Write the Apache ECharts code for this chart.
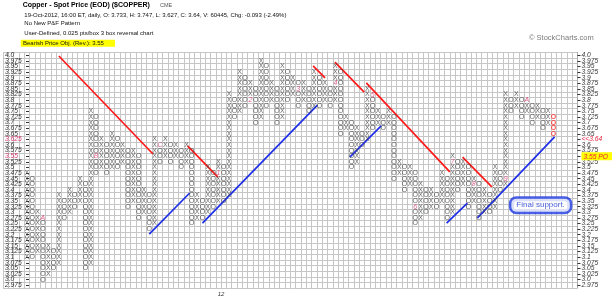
<!DOCTYPE html>
<html><head><meta charset="utf-8">
<script src="https://cdn.jsdelivr.net/npm/echarts@6/dist/echarts.min.js"></script>
<style>html,body{margin:0;padding:0;background:#fff}#c{width:615px;height:298px}</style>
</head><body><div id="c"></div>
<script>
// ---- tick labels (bottom -> top), 0.025 per box ----
const priceLabels = ['2.975','3.0','3.025','3.05','3.075','3.1','3.125','3.15','3.175','3.2','3.225','3.25','3.275','3.3','3.325','3.35','3.375','3.4','3.425','3.45','3.475','3.5','3.525','3.55','3.575','3.6','3.625','3.65','3.675','3.7','3.725','3.75','3.775','3.8','3.825','3.85','3.875','3.9','3.925','3.95','3.975','4.0'];
const boxSize = 0.025;
const basePrice = 2.975;
const totalColumns = 108;
const firstColumn = 4;
// ---- P&F columns ----
const colType = ['X','O','X','O','X','O','X','O','X','O','X','O','X','O','X','O','X','O','X','O',
                 'X','O','X','O','X','O','X','O','X','O','X','O','X','O','X','O','X','O','X','O',
                 'X','O','X','O','X','O','X','O','X','O','X','O','X','O','X','O','X','O','X','O',
                 'X','O','X','O','X','O','X','O','X','O','X','O','X','O','X','O','X','O','X','O',
                 'X','O','X','O','X','O','X','O','X','O','X','O','X','O','X','O','X','O','X','O'];
const colLow = [3.100,3.100,3.125,3.000,3.025,3.050,3.075,3.275,3.300,3.325,
                3.350,3.050,3.075,3.475,3.500,3.475,3.500,3.500,3.525,3.325,
                3.350,3.275,3.300,3.225,3.250,3.525,3.550,3.525,3.550,3.500,
                3.525,3.250,3.275,3.275,3.300,3.325,3.350,3.350,3.375,3.725,
                3.750,3.775,3.800,3.700,3.725,3.775,3.800,3.700,3.725,3.800,
                3.825,3.775,3.800,3.750,3.775,3.775,3.800,3.775,3.800,3.650,
                3.675,3.500,3.525,3.600,3.625,3.675,3.700,3.675,3.700,3.450,
                3.475,3.400,3.425,3.250,3.275,3.300,3.325,3.325,3.350,3.275,
                3.300,3.400,3.425,3.325,3.350,3.275,3.300,3.300,3.325,3.400,
                3.425,3.750,3.775,3.725,3.750,3.700,3.725,3.675,3.700,3.650];
const colHigh = [3.475,3.450,3.300,3.275,3.150,3.125,3.375,3.350,3.400,3.375,
                 3.450,3.425,3.750,3.725,3.625,3.600,3.650,3.625,3.600,3.575,
                 3.575,3.550,3.400,3.375,3.625,3.600,3.625,3.600,3.600,3.575,
                 3.600,3.575,3.375,3.350,3.500,3.475,3.525,3.500,3.825,3.800,
                 3.925,3.900,3.875,3.850,3.975,3.950,3.875,3.850,3.950,3.925,
                 3.900,3.875,3.875,3.850,3.925,3.900,3.875,3.850,3.950,3.925,
                 3.725,3.700,3.675,3.650,3.850,3.825,3.750,3.725,3.750,3.725,
                 3.525,3.500,3.500,3.475,3.425,3.400,3.400,3.375,3.475,3.450,
                 3.550,3.525,3.525,3.500,3.450,3.425,3.400,3.375,3.500,3.475,
                 3.825,3.800,3.825,3.800,3.800,3.775,3.775,3.750,3.750,3.725];
// month markers: [symbol, column, price]
const monthMarks = [['A',7,3.275],['B',17,3.55],['C',29,3.6],['1',40,3.475],['2',46,3.8],['3',55,3.85],
                    ['4',62,3.875],['5',69,3.825],['6',77,3.325],['7',84,3.525],['8',88,3.425],['9',94,3.45],['A',98,3.8]];
// trend lines: [[column, price], [column, price]]
const redTrendLines = [[[10,3.997],[27.7,3.56]],[[34.2,3.596],[39.9,3.457]],[[57.8,3.953],[60.05,3.899]],
                       [[61.9,3.97],[67.4,3.836]],[[67.8,3.877],[83.5,3.48]],[[85.9,3.546],[91.4,3.413]]];
const blueTrendLines = [[[27.0,3.203],[34.6,3.386]],[[37.0,3.252],[58.6,3.778]],[[64.7,3.546],[70.6,3.685]],
                        [[82.9,3.252],[86.8,3.341]],[[88.7,3.275],[103.2,3.636]]];
const yearLabels = {82:'12'};
const callout = {text:'Final support.', col:100.57, price:3.332};

// ---- helpers ----
const rowOf = p => Math.round((p - basePrice) / boxSize);
const xOf = c => 2 * c + 1;
const yOf = p => 2 * (p - basePrice) / boxSize + 1;
const markKey = {};
monthMarks.forEach(m => { markKey[m[1] + '_' + rowOf(m[2])] = true; });

const xPts = [], oPts = [], lastPts = [];
const lastIdx = colType.length - 1;
colType.forEach((t, i) => {
  const c = firstColumn + i;
  for (let r = rowOf(colLow[i]); r <= rowOf(colHigh[i]); r++) {
    if (markKey[c + '_' + r]) continue;
    const pt = [xOf(c), 2 * r + 1];
    if (i === lastIdx) lastPts.push(pt);
    else if (t === 'X') xPts.push(pt); else oPts.push(pt);
  }
});
const markPts = monthMarks.map(m => [xOf(m[1]), 2 * rowOf(m[2]) + 1, m[0]]);

const FONT = 'Liberation Sans';
const glyph = (ch, color, weight) => ({
  type: 'scatter', data: null, symbolSize: 1, itemStyle: {color: 'rgba(0,0,0,0)'}, silent: true, z: 4,
  label: {show: true, position: 'inside', formatter: ch, fontSize: 7, fontFamily: FONT, color: color, fontWeight: weight || 'normal'}
});
const sX = glyph('X', '#3d3d3d'); sX.data = xPts;
const sO = glyph('O', '#3d3d3d'); sO.data = oPts;
const sLast = glyph('O', '#ff2a2a', 'bold'); sLast.data = lastPts;
const sMarks = glyph('', '#d5336c'); sMarks.data = markPts;
sMarks.label.formatter = p => p.data[2]; sMarks.label.fontStyle = 'italic';

const lineSeries = [];
redTrendLines.forEach(l => lineSeries.push({type: 'line', data: l.map(q => [xOf(q[0]), yOf(q[1])]), symbol: 'none', silent: true, z: 3,
  lineStyle: {color: '#ff1a1a', width: 1.7}}));
blueTrendLines.forEach(l => lineSeries.push({type: 'line', data: l.map(q => [xOf(q[0]), yOf(q[1])]), symbol: 'none', silent: true, z: 3,
  lineStyle: {color: '#1f2fe8', width: 1.7}}));

const calloutSeries = {type: 'scatter', symbolSize: 1, itemStyle: {color: 'rgba(0,0,0,0)'}, silent: true, z: 6,
  data: [[xOf(callout.col), yOf(callout.price)]],
  label: {show: true, position: 'inside', formatter: callout.text, fontSize: 8, fontFamily: FONT, color: '#1d38d8',
    backgroundColor: '#ffffff', borderColor: '#1d38e0', borderWidth: 2.5, borderRadius: 5, padding: [3, 5, 2, 5]}};

const labelBase = {interval: 0, fontSize: 6.7, fontStyle: 'italic', fontFamily: FONT, color: '#333'};
const chart = echarts.init(document.getElementById('c'), null, {renderer: 'canvas'});
chart.setOption({
  animation: false,
  textStyle: {fontFamily: FONT},
  grid: {left: 0, right: 30, top: 52.5, bottom: 10, containLabel: false},
  xAxis: {type: 'value', min: 0, max: 2 * totalColumns, interval: 2,
    axisLine: {show: false}, axisTick: {show: false},
    splitLine: {show: true, lineStyle: {color: '#c6c6c6', width: 1}},
    axisLabel: {show: true, formatter: v => yearLabels[v] || '', fontSize: 6, fontStyle: 'italic', color: '#333', margin: 3, showMinLabel: true, showMaxLabel: true, hideOverlap: false}},
  yAxis: [
    {type: 'value', min: 0, max: 2 * priceLabels.length, interval: 2,
      axisLine: {show: false}, axisTick: {show: false}, axisLabel: {show: false},
      splitLine: {show: true, lineStyle: {color: '#c6c6c6', width: 1}}},
    {type: 'category', data: priceLabels, position: 'left', offset: -26,
      axisLine: {show: false}, axisTick: {show: true, alignWithLabel: true, length: 3, lineStyle: {color: '#333'}},
      splitLine: {show: false},
      axisLabel: Object.assign({}, labelBase, {margin: 24, align: 'left',
        formatter: v => (v === '3.625' || v === '3.55') ? '{r|' + v + '}' : v,
        rich: {r: {color: '#d5336c', fontSize: 6.7, fontStyle: 'italic', fontFamily: FONT}}})},
    {type: 'category', data: priceLabels, position: 'right',
      axisLine: {show: true, lineStyle: {color: '#aaa'}}, axisTick: {show: true, alignWithLabel: true, length: 3, lineStyle: {color: '#333'}},
      splitLine: {show: false},
      axisLabel: Object.assign({}, labelBase, {margin: 4,
        formatter: v => v === '3.625' ? '{r|<<3.64}' : (v === '3.55' ? '{po|3.55 PO}' : v),
        rich: {r: {color: '#e8203a', fontSize: 6.7, fontStyle: 'italic', fontFamily: FONT},
               po: {color: '#e8203a', fontSize: 6.7, fontStyle: 'italic', fontFamily: FONT, backgroundColor: '#ffff00', padding: [1, 4, 0, 2]}}})}
  ],
  graphic: [
    {type: 'text', x: 22.7, y: 5, style: {text: 'Copper - Spot Price (EOD) ($COPPER)', fontSize: 7, fontWeight: 'bold', fontFamily: FONT, fill: '#000', verticalAlign: 'middle'}},
    {type: 'text', x: 160, y: 5.5, style: {text: 'CME', fontSize: 5.5, fontFamily: FONT, fill: '#555', verticalAlign: 'middle'}},
    {type: 'text', x: 24.3, y: 15, style: {text: '19-Oct-2012, 16:00 ET, daily, O: 3.733, H: 3.747, L: 3.627, C: 3.64, V: 60445, Chg: -0.093 (-2.49%)', fontSize: 6, fontFamily: FONT, fill: '#111', verticalAlign: 'middle'}},
    {type: 'text', x: 24.3, y: 23.5, style: {text: 'No New P&F Pattern', fontSize: 6, fontFamily: FONT, fill: '#111', verticalAlign: 'middle'}},
    {type: 'text', x: 24.3, y: 33.2, style: {text: 'User-Defined, 0.025 pts/box 3 box reversal chart', fontSize: 6, fontFamily: FONT, fill: '#111', verticalAlign: 'middle'}},
    {type: 'rect', shape: {x: 20.7, y: 39.8, width: 94.3, height: 7}, style: {fill: '#ffff00'}},
    {type: 'text', x: 23, y: 43.4, style: {text: 'Bearish Price Obj. (Rev.): 3.55', fontSize: 6, fontFamily: FONT, fill: '#111', verticalAlign: 'middle'}},
    {type: 'text', x: 529, y: 38, style: {text: '\u00a9 StockCharts.com', fontSize: 7.5, fontFamily: FONT, fill: '#7a7a7a', verticalAlign: 'middle'}}
  ],
  series: [sX, sO, sMarks, sLast].concat(lineSeries).concat([calloutSeries])
});
</script></body></html>
